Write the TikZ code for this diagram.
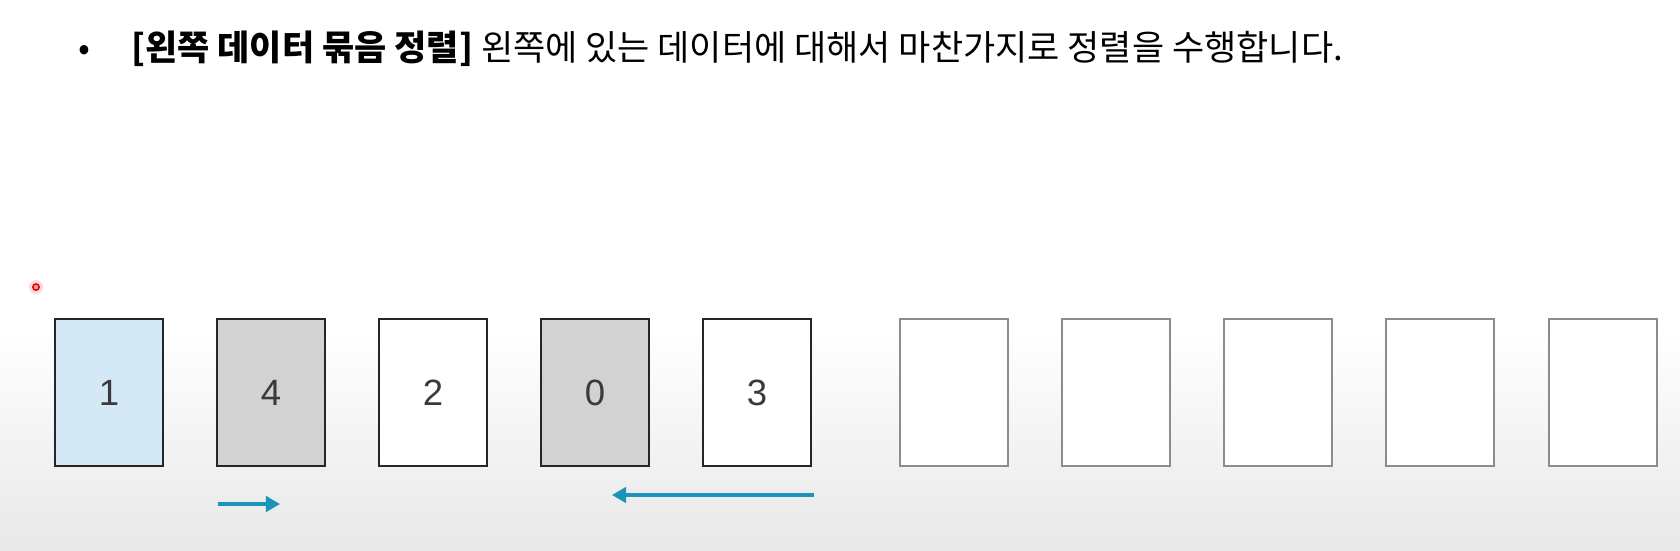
\documentclass[tikz,border=0pt]{standalone}
\usepackage{fontspec}
\setmainfont{Liberation Sans}
\newfontfamily\kr{Noto Sans CJK KR}
\usetikzlibrary{arrows.meta}
\definecolor{cardblue}{HTML}{D5E8F6}
\definecolor{cardgray}{HTML}{D2D2D2}
\definecolor{arrowblue}{HTML}{1C93B9}
\definecolor{emptyline}{HTML}{8C8C8C}
\definecolor{numcol}{HTML}{3A3A3A}
\tikzset{
  card/.style={draw=black!85, line width=1.7pt, minimum width=27mm, minimum height=36.75mm, inner sep=0pt,
    font=\fontsize{26}{26}\selectfont, text=numcol},
  emptycard/.style={draw=emptyline, line width=1.2pt, minimum width=27mm, minimum height=36.75mm, inner sep=0pt},
  movearrow/.style={draw=arrowblue, line width=2.2pt, -{Triangle[length=10pt,width=11pt]}},
}
\begin{document}
\begin{tikzpicture}[x=0.25mm, y=-0.25mm]
\useasboundingbox (0,0) rectangle (1680,550);
\fill[white] (0,0) rectangle (1680,330);
\shade[top color=white, bottom color=black!9] (0,330) rectangle (1680,550);
% title
\node[anchor=base west, inner sep=0pt, font=\kr\fontsize{24.9}{24.9}\selectfont] (bullet) at (78,60) {•};
\node[anchor=base west, inner sep=0pt, font=\kr\fontsize{24.9}{24.9}\selectfont] (title) at (131,60)
  {\textbf{[왼쪽 데이터 묶음 정렬]} 왼쪽에 있는 데이터에 대해서 마찬가지로 정렬을 수행합니다.};
% laser dot
\fill[red!25, opacity=0.6] (36,287) circle (7);
\draw[red!85!black, fill=red!40, line width=1pt] (36,287) circle (3.2);
% cards
\node[card, fill=cardblue] (c1) at (109,392.5) {1};
\node[card, fill=cardgray] (c2) at (271,392.5) {4};
\node[card, fill=white] (c3) at (433,392.5) {2};
\node[card, fill=cardgray] (c4) at (595,392.5) {0};
\node[card, fill=white] (c5) at (757,392.5) {3};
\node[emptycard, fill=white] (e1) at (954,392.5) {};
\node[emptycard, fill=white] (e2) at (1116,392.5) {};
\node[emptycard, fill=white] (e3) at (1278,392.5) {};
\node[emptycard, fill=white] (e4) at (1440,392.5) {};
\node[emptycard, fill=white] (e5) at (1603,392.5) {};
% arrows
\coordinate (ra1) at (218,504);
\coordinate (ra2) at (280,504);
\coordinate (la1) at (814,495);
\coordinate (la2) at (612,495);
\draw[movearrow] (ra1) -- (ra2);
\draw[movearrow] (la1) -- (la2);
\end{tikzpicture}
\end{document}
